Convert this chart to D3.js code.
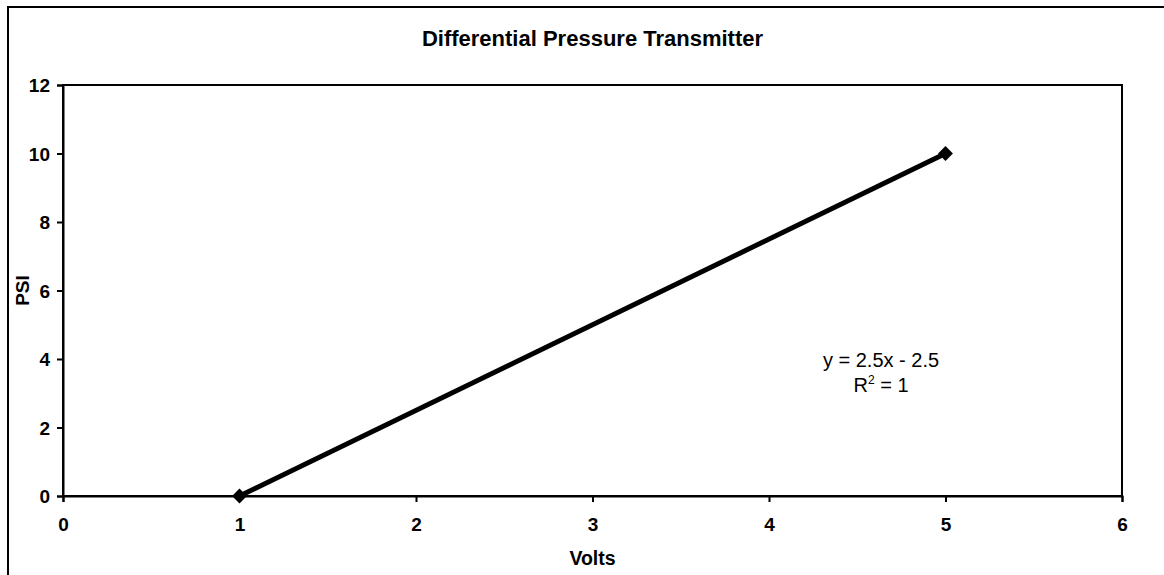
<!DOCTYPE html>
<html>
<head>
<meta charset="utf-8">
<script src="https://cdn.jsdelivr.net/npm/d3@7"></script>
<style>
  html, body { margin: 0; padding: 0; background: #fff; }
  svg { display: block; }
  text { font-family: Arial, "Liberation Sans", sans-serif; fill: #000; }
</style>
</head>
<body>
<svg id="chart" width="1164" height="575"></svg>
<script>
// Calibration points: transmitter output (V) against pressure (PSI)
const volts = [1, 5];
const psi = [0, 10];
const xTicks = [0, 1, 2, 3, 4, 5, 6];
const yTicks = [0, 2, 4, 6, 8, 10, 12];
const titleText = "Differential Pressure Transmitter";
const xLabel = "Volts";
const yLabel = "PSI";
const fitSlope = 2.5;
const fitIntercept = -2.5;
const fitR2 = 1;

const svg = d3.select("#chart");
const plot = { left: 63, top: 85, right: 1122, bottom: 496 };

// Outer chart frame (runs off the right and bottom of the view)
svg.append("rect")
  .attr("x", 8).attr("y", 7)
  .attr("width", 1200).attr("height", 620)
  .attr("fill", "none").attr("stroke", "#000").attr("stroke-width", 2);

const x = d3.scaleLinear().domain([0, 6]).range([plot.left, plot.right]);
const y = d3.scaleLinear().domain([0, 12]).range([plot.bottom, plot.top]);

// Plot area border
svg.append("rect")
  .attr("x", plot.left).attr("y", plot.top)
  .attr("width", plot.right - plot.left).attr("height", plot.bottom - plot.top)
  .attr("fill", "none").attr("stroke", "#000").attr("stroke-width", 2);

// Axes
const xAxis = svg.append("g")
  .attr("transform", `translate(0,${plot.bottom})`)
  .call(d3.axisBottom(x).tickValues(xTicks).tickFormat(d3.format("d")).tickSize(6).tickPadding(16));
const yAxis = svg.append("g")
  .attr("transform", `translate(${plot.left},0)`)
  .call(d3.axisLeft(y).tickValues(yTicks).tickFormat(d3.format("d")).tickSize(6).tickPadding(7));

[xAxis, yAxis].forEach(g => {
  g.select(".domain").attr("stroke", "#000").attr("stroke-width", 2);
  g.selectAll(".tick line").attr("stroke", "#000").attr("stroke-width", 2);
  g.selectAll(".tick text")
    .attr("font-family", "Arial, 'Liberation Sans', sans-serif")
    .attr("font-size", 19).attr("font-weight", "bold").attr("fill", "#000");
});
yAxis.selectAll(".tick text").attr("dy", "0.35em");

// Title
svg.append("text")
  .attr("x", (plot.left + plot.right) / 2).attr("y", 46)
  .attr("text-anchor", "middle")
  .attr("font-size", 22).attr("font-weight", "bold")
  .text(titleText);

// Axis titles
svg.append("text")
  .attr("x", (plot.left + plot.right) / 2).attr("y", 565)
  .attr("text-anchor", "middle")
  .attr("font-size", 19.5).attr("font-weight", "bold")
  .text(xLabel);

svg.append("text")
  .attr("transform", `translate(29,${(plot.top + plot.bottom) / 2}) rotate(-90)`)
  .attr("text-anchor", "middle")
  .attr("font-size", 19).attr("font-weight", "bold")
  .text(yLabel);

// Data series
const pts = volts.map((v, i) => ({ v, p: psi[i] }));
svg.append("path")
  .datum(pts)
  .attr("fill", "none").attr("stroke", "#000").attr("stroke-width", 5)
  .attr("stroke-linejoin", "round")
  .attr("d", d3.line().x(d => x(d.v)).y(d => y(d.p)));

svg.selectAll("path.marker")
  .data(pts)
  .join("path")
  .attr("class", "marker")
  .attr("transform", d => `translate(${x(d.v)},${y(d.p)})`)
  .attr("d", d3.symbol().type(d3.symbolDiamond2).size(140))
  .attr("fill", "#000");

// Trendline equation
const eq = svg.append("g").attr("transform", "translate(881,0)");
eq.append("text")
  .attr("x", 0).attr("y", 367)
  .attr("text-anchor", "middle").attr("font-size", 20)
  .text(`y = ${fitSlope}x - ${Math.abs(fitIntercept)}`);
const r2 = eq.append("text")
  .attr("x", 0).attr("y", 392)
  .attr("text-anchor", "middle").attr("font-size", 20);
r2.append("tspan").text("R");
r2.append("tspan").attr("font-size", 12).attr("dy", -8).text("2");
r2.append("tspan").attr("dy", 8).text(` = ${fitR2}`);
</script>
</body>
</html>
